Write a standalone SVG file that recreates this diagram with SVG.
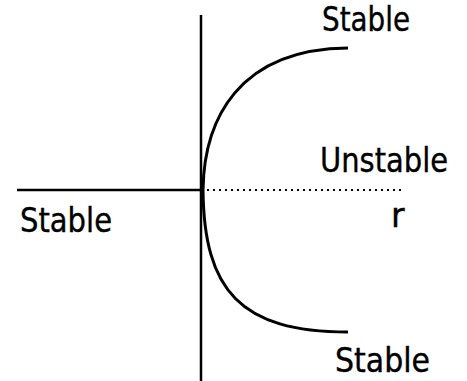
<svg xmlns="http://www.w3.org/2000/svg" width="467" height="381" viewBox="0 0 467 381">
<style>
.ln{stroke:#000;stroke-width:2.5;fill:none}
.cv{stroke:#000;stroke-width:3;fill:none}
.dot{stroke:#000;stroke-width:2;stroke-dasharray:2 4;fill:none}
.t{font-family:"DejaVu Sans","Liberation Sans",sans-serif;font-size:33px;fill:#000;stroke:#000;stroke-width:0.4}
</style>
<rect width="467" height="381" fill="#fff"/>
<g id="axes">
<line class="ln" x1="201" y1="15" x2="201" y2="381"/>
<line class="ln" x1="17" y1="190" x2="201" y2="190"/>
<line class="dot" x1="207" y1="190" x2="402" y2="190"/>
</g>
<g id="branches">
<path class="cv" d="M203,190 C204,120 238,49 348,48"/>
<path class="cv" d="M203,190 C204,290 240,332 348,332"/>
</g>
<g id="labels">
<text class="t" x="322" y="31" textLength="88" lengthAdjust="spacingAndGlyphs">Stable</text>
<text class="t" x="320" y="172" textLength="128" lengthAdjust="spacingAndGlyphs">Unstable</text>
<text class="t" x="20" y="232" textLength="92" lengthAdjust="spacingAndGlyphs">Stable</text>
<text class="t" x="391" y="227">r</text>
<text class="t" x="335" y="372" textLength="95" lengthAdjust="spacingAndGlyphs">Stable</text>
</g>
</svg>
